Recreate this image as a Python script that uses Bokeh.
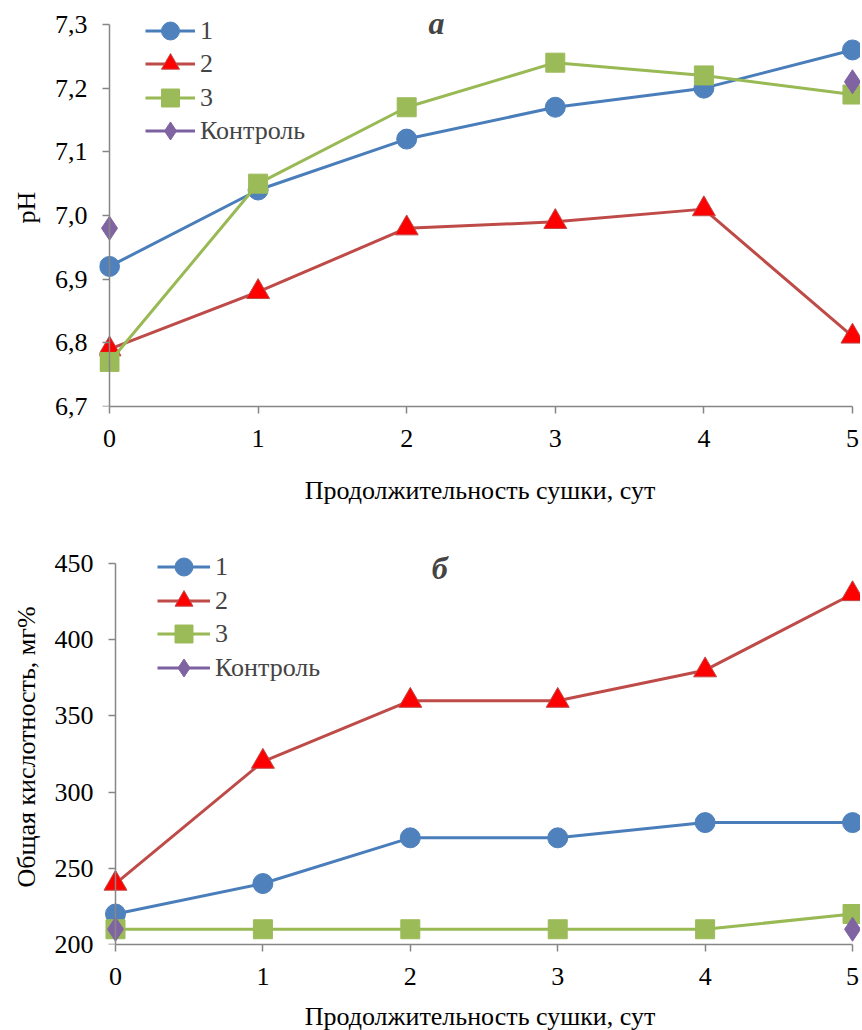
import numpy as np
from bokeh.plotting import figure
from bokeh.layouts import column
from bokeh.models import (Legend, LegendItem, Label, FixedTicker, LinearAxis,
                          CustomJSTickFormatter, Range1d)
from bokeh.embed import file_html
from bokeh.resources import INLINE

# ---------------- data ----------------
days = [0, 1, 2, 3, 4, 5]
series_names = ["1", "2", "3", "Контроль"]

ph_1 = [6.92, 7.04, 7.12, 7.17, 7.20, 7.26]
ph_2 = [6.79, 6.88, 6.98, 6.99, 7.01, 6.81]
ph_3 = [6.77, 7.05, 7.17, 7.24, 7.22, 7.19]
ph_control = [6.98, None, None, None, None, 7.21]

acid_1 = [220, 240, 270, 270, 280, 280]
acid_2 = [240, 320, 360, 360, 380, 430]
acid_3 = [210, 210, 210, 210, 210, 220]
acid_control = [210, None, None, None, None, 210]

ph_ticks = [6.7, 6.8, 6.9, 7.0, 7.1, 7.2, 7.3]
acid_ticks = [200, 250, 300, 350, 400, 450]

x_title = "Продолжительность сушки, сут"
ph_title = "pH"
acid_title = "Общая кислотность, мг%"
letter_top = "а"
letter_bottom = "б"

# ---------------- style ----------------
FONT = "Liberation Serif"
GREY = "#868686"
STYLES = [
    dict(marker="circle", size=20, line="#4A7EBB", fill="#4F81BD", edge="#4F81BD"),
    dict(marker="triangle", size=23, line="#BE4B48", fill="#FF0000", edge="#BE4B48"),
    dict(marker="square", size=19, line="#98B954", fill="#9BBB59", edge="#9BBB59"),
    dict(marker="diamond", size=24, line="#7D60A0", fill="#8064A2", edge="#8064A2"),
]


def to_arr(v):
    return np.array([np.nan if a is None else a for a in v], dtype=float)


def make_plot(series, yticks, yfmt, ytitle, x_start, x_end, y_top, fw, fh, mbl, mbt, mbb,
              ylab_standoff, ytitle_standoff, xlab_standoff,
              letter, letter_x, letter_y, legend_x, legend_ys, glyph_w):
    p = figure(frame_width=fw, frame_height=fh, min_border_left=mbl,
               min_border_right=0, min_border_top=mbt, min_border_bottom=mbb,
               x_range=Range1d(x_start, x_end),
               y_range=Range1d(yticks[0], y_top),
               output_backend="svg", toolbar_location=None)
    p.outline_line_color = None
    p.xgrid.visible = False
    p.ygrid.visible = False
    p.background_fill_color = "white"
    p.border_fill_color = "white"

    items = []
    for name, ys, st in zip(series_names, series, STYLES):
        y = to_arr(ys)
        lr = p.line(days, y, line_color=st["line"], line_width=3)
        sr = p.scatter(days, y, marker=st["marker"], size=st["size"],
                       fill_color=st["fill"], line_color=st["edge"], line_width=1)
        items.append(LegendItem(label=name, renderers=[lr, sr]))

    # x axis
    xa = p.xaxis[0]
    xa.ticker = FixedTicker(ticks=days)
    xa.bounds = (days[0], days[-1])
    xa.axis_line_color = GREY
    xa.axis_line_width = 1.5
    xa.major_tick_line_color = GREY
    xa.major_tick_line_width = 1.5
    xa.major_tick_in = 0
    xa.major_tick_out = 7
    xa.minor_tick_line_color = None
    xa.major_label_standoff = 16
    xa.axis_label = x_title
    xa.axis_label_standoff = xlab_standoff

    # y axis: labels + title at the frame edge
    ya = p.yaxis[0]
    ya.ticker = FixedTicker(ticks=yticks)
    if yfmt is not None:
        ya.formatter = yfmt
    ya.axis_line_color = None
    ya.major_tick_line_color = None
    ya.minor_tick_line_color = None
    ya.major_tick_in = 0
    ya.major_tick_out = 0
    ya.major_label_standoff = ylab_standoff
    ya.axis_label = ytitle
    ya.axis_label_standoff = ytitle_standoff

    # y axis line and ticks drawn at day 0 (ticks pointing left)
    yl = LinearAxis(ticker=FixedTicker(ticks=yticks), fixed_location=0,
                    bounds=(yticks[0], yticks[-1]),
                    formatter=CustomJSTickFormatter(code="return '';"),
                    major_label_text_font_size="0px", major_label_standoff=0,
                    axis_line_color=GREY, axis_line_width=1.5,
                    major_tick_line_color=GREY, major_tick_line_width=1.5,
                    major_tick_in=7, major_tick_out=0, minor_tick_line_color=None)
    p.add_layout(yl, "right")

    for ax in (xa, ya):
        ax.major_label_text_font = FONT
        ax.major_label_text_font_size = "26px"
        ax.major_label_text_color = "black"
        ax.axis_label_text_font = FONT
        ax.axis_label_text_font_size = "26px"
        ax.axis_label_text_font_style = "normal"
        ax.axis_label_text_color = "black"

    for item, ly in zip(items, legend_ys):
        legend = Legend(items=[item], location=(legend_x, ly), border_line_alpha=0,
                        background_fill_alpha=0, padding=0, spacing=0, margin=0,
                        glyph_width=glyph_w, glyph_height=45, label_height=45,
                        label_standoff=5, label_text_font=FONT,
                        label_text_font_size="26px")
        p.add_layout(legend)

    p.add_layout(Label(x=letter_x, y=letter_y, text=letter, text_font=FONT,
                       text_font_size="32px", text_font_style="bold italic",
                       text_align="center", text_baseline="middle"))
    return p


ph_fmt = CustomJSTickFormatter(code="return tick.toFixed(1).replace('.', ',');")

p1 = make_plot([ph_1, ph_2, ph_3, ph_control], ph_ticks, ph_fmt, ph_title,
               x_start=-0.0673, x_end=5.054, y_top=7.3251, fw=761, fh=398,
               mbl=99, mbt=8, mbb=135,
               ylab_standoff=12, ytitle_standoff=11, xlab_standoff=26,
               letter=letter_top, letter_x=2.2, letter_y=7.303,
               legend_x=46, legend_ys=[353, 320, 286, 253], glyph_w=50)

p2 = make_plot([acid_1, acid_2, acid_3, acid_control], acid_ticks, None, acid_title,
               x_start=-0.1085, x_end=5.054, y_top=459.2, fw=761, fh=395,
               mbl=99, mbt=8, mbb=80,
               ylab_standoff=6, ytitle_standoff=11, xlab_standoff=14,
               letter=letter_bottom, letter_x=2.2, letter_y=447,
               legend_x=58, legend_ys=[355, 321, 288, 254], glyph_w=53)

layout = column(p1, p2, spacing=0)
open("out.html", "w").write(file_html(layout, INLINE))
